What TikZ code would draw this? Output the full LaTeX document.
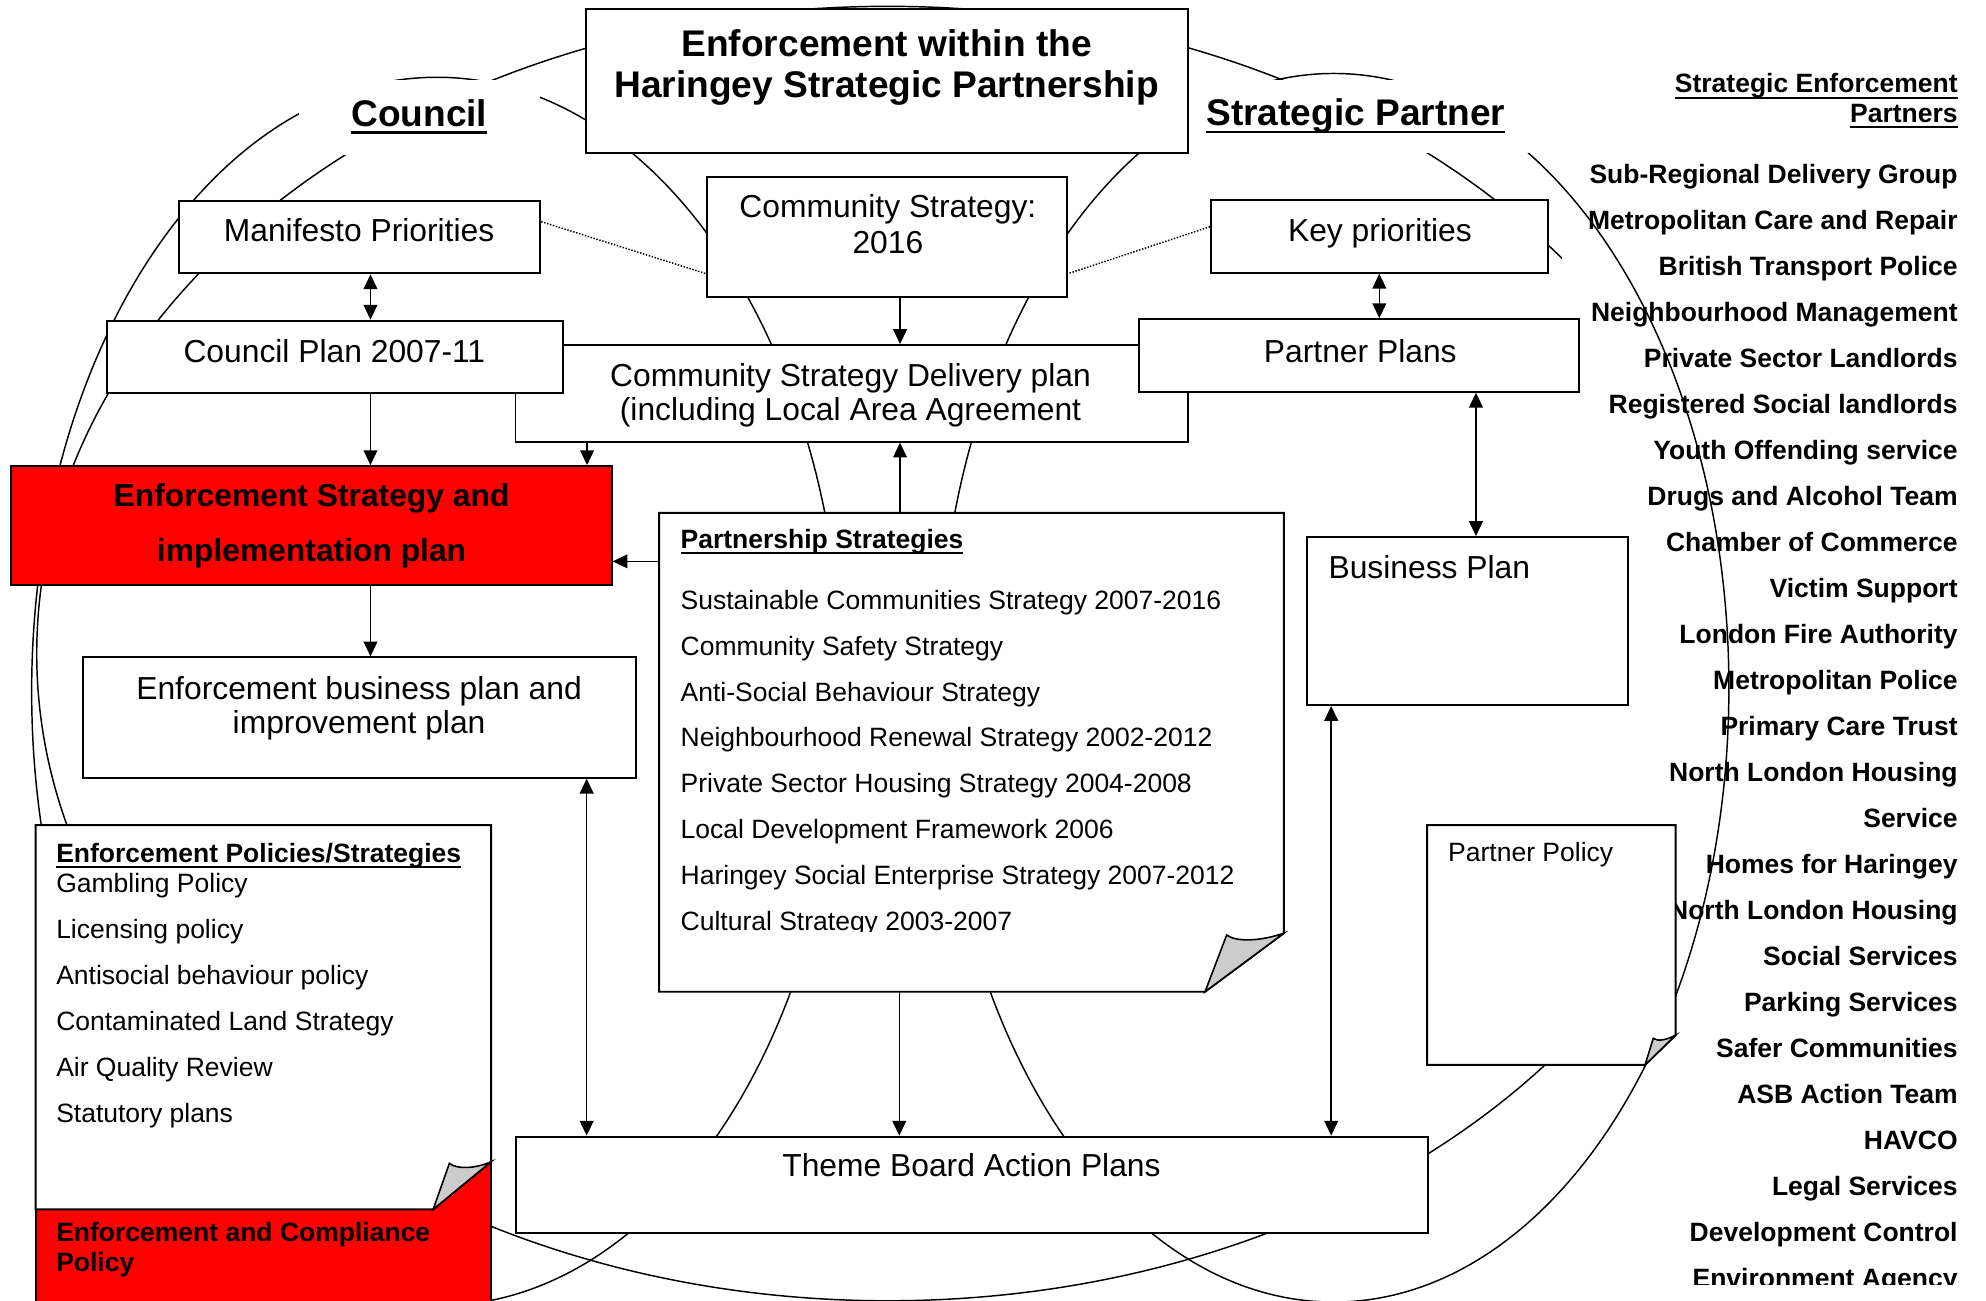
\documentclass[tikz,border=0pt]{standalone}
\usepackage{fontspec}
\setmainfont{Liberation Sans}
\usetikzlibrary{arrows.meta}
\usetikzlibrary{fit}
\newcommand{\ulin}[1]{\leavevmode\setbox0\hbox{#1}\rlap{\rule[-0.21em]{\wd0}{0.07em}}\box0}
\tikzset{
  planbox/.style={draw, line width=0.75pt, fill=white, inner sep=0pt},
  redbox/.style={planbox, fill=red},
  page/.style={draw, line width=0.75pt, fill=white},
  fold/.style={draw, line width=0.6pt, fill=black!20},
  cover/.style={fill=white, inner sep=0pt, outer sep=0pt},
  spot/.style={inner sep=0pt, outer sep=0pt},
  txt/.style={inner sep=0pt, font=\fontsize{12}{14}\selectfont},
  txtb/.style={inner sep=0pt, font=\fontsize{12}{14}\selectfont\bfseries},
  txts/.style={inner sep=0pt, font=\fontsize{10}{12}\selectfont},
  txtsb/.style={inner sep=0pt, font=\fontsize{10}{12}\selectfont\bfseries},
  heading/.style={inner sep=0pt, font=\fontsize{14}{17}\selectfont\bfseries},
  orbit/.style={line width=0.55pt},
  link/.style={-{Triangle[length=5.6pt, width=5.2pt]}, line width=0.55pt},
  dlink/.style={{Triangle[length=5.6pt, width=5.2pt]}-{Triangle[length=5.6pt, width=5.2pt]}, line width=0.55pt},
  dots/.style={line width=0.55pt, dash pattern=on 0.55pt off 0.6pt},
}

\begin{document}
\begin{tikzpicture}[x=0.478pt, y=-0.478pt]
  \fill[white] (0,0) rectangle (1568,1027);
  \useasboundingbox (0,0) rectangle (1568,1027);
  \clip (0,0) rectangle (1568,1027);

  % large loop, its right side hidden by the partner list
  \draw[orbit] (701,516) ellipse [x radius=672, y radius=511];
  \node[cover, fit={(1233,30) (1568,1014)}] (listbg) {};
  \begin{scope}
    \clip (1233,0) rectangle (1568,1014);
    \node[txtsb, anchor=base east] (lh1) at (1546,73.4) {\ulin{Strategic Enforcement}};
    \node[txtsb, anchor=base east] (lh2) at (1546,96.9) {\ulin{Partners}};
    \foreach \nome [count=\i] in {Sub-Regional Delivery Group, Metropolitan Care and Repair,
        British Transport Police, Neighbourhood Management, Private Sector Landlords,
        Registered Social landlords, Youth Offending service, Drugs and Alcohol Team,
        Chamber of Commerce, Victim Support, London Fire Authority, Metropolitan Police,
        Primary Care Trust, North London Housing, Service, Homes for Haringey,
        North London Housing, Social Services, Parking Services, Safer Communities,
        ASB Action Team, HAVCO, Legal Services, Development Control, Environment Agency}
      \node[txtsb, anchor=base east] (sp\i) at (1546,{145.2+36.3*(\i-1)}) {\nome};
  \end{scope}

  % council and partner circles
  \draw[orbit] (345,546) ellipse [x radius=320, y radius=485];
  \draw[orbit] (1053,543) ellipse [x radius=312, y radius=485];

  % headings
  \node[cover, fit={(236,63) (426,122)}] (councilbg) {};
  \node[heading, anchor=base] (council) at (331,99.5) {\ulin{Council}};
  \node[cover, fit={(939,63) (1212,121)}] (partnerbg) {};
  \node[heading, anchor=base west] (partner) at (952,99) {\ulin{Strategic Partner}};

  % top row
  \node[planbox, fit={(463,7) (938,120.5)}] (title) {};
  \node[heading, anchor=base] (title1) at (700,44.5) {Enforcement within the};
  \node[heading, anchor=base] (title2) at (700,77) {Haringey Strategic Partnership};
  \node[planbox, fit={(558,139.5) (842.6,234.8)}] (cs) {};
  \node[txt, anchor=base] (cs1) at (701,172) {Community Strategy:};
  \node[txt, anchor=base] (cs2) at (701,200) {2016};
  \node[planbox, fit={(141,158.7) (426.5,215.8)}] (mani) {};
  \node[txt, anchor=base] (mani1) at (283.5,191) {Manifesto Priorities};
  \node[planbox, fit={(956,158) (1222,215.3)}] (kp) {};
  \node[txt, anchor=base] (kp1) at (1089.5,191) {Key priorities};

  % plans
  \node[planbox, fit={(407,272.4) (938,348.7)}] (csd) {};
  \node[txt, anchor=base] (csd1) at (671.5,305) {Community Strategy Delivery plan};
  \node[txt, anchor=base] (csd2) at (671.5,332) {(including Local Area Agreement};
  \node[planbox, fit={(84.6,253.2) (444.7,310)}] (cp) {};
  \node[txt, anchor=base] (cp1) at (264,286) {Council Plan 2007-11};
  \node[planbox, fit={(899,252) (1247,309.3)}] (pp) {};
  \node[txt, anchor=base] (pp1) at (1074,286) {Partner Plans};

  % enforcement strategy
  \node[redbox, fit={(8.8,368) (482.9,461.7)}] (esp) {};
  \node[txtb, anchor=base] (esp1) at (246,400) {Enforcement Strategy and};
  \node[txtb, anchor=base] (esp2) at (246,443) {implementation plan};
  \node[planbox, fit={(65.6,519) (501.9,614)}] (ebp) {};
  \node[txt, anchor=base] (ebp1) at (283.5,552) {Enforcement business plan and};
  \node[txt, anchor=base] (ebp2) at (283.5,579) {improvement plan};

  % partnership strategies page
  \node[spot, fit={(520.3,405) (1013.7,783)}] (ps) {};
  \draw[page] (ps.north west) -- (ps.north east) -- (1013.7,736.7) -- (951.4,783) -- (ps.south west) -- cycle;
  \draw[fold] (951.4,783) -- (968.5,738.2) .. controls (976,744) and (996,743) .. (1013.7,736.7) -- cycle;
  \node[txtsb, anchor=base west] (ps0) at (537,433) {\ulin{Partnership Strategies}};
  \begin{scope}
    \clip (521,405) rectangle (1013,735.5);
    \foreach \nome [count=\i] in {Sustainable Communities Strategy 2007-2016, Community Safety Strategy,
        Anti-Social Behaviour Strategy, Neighbourhood Renewal Strategy 2002-2012,
        Private Sector Housing Strategy 2004-2008, Local Development Framework 2006,
        Haringey Social Enterprise Strategy 2007-2012, Cultural Strategy 2003-2007}
      \node[txts, anchor=base west] (ps\i) at (537,{481+36.25*(\i-1)}) {\nome};
  \end{scope}
  \node[planbox, fit={(1032,424) (1285,556.6)}] (bp) {};
  \node[txt, anchor=base west] (bp1) at (1048.5,457) {Business Plan};

  % enforcement policies page over the red band
  \node[spot, fit={(28.2,651.4) (387.7,1027)}] (ep) {};
  \draw[line width=0.75pt, fill=red] (28.2,917.2) rectangle (387.7,1040);
  \draw[page] (ep.north west) -- (ep.north east) -- (387.7,917.2) -- (342,954.8) -- (28.2,954.8) -- cycle;
  \draw[fold] (342,954.8) -- (354.8,918.5) .. controls (361,923.5) and (376,922.5) .. (387.7,917.2) -- cycle;
  \node[txtsb, anchor=base west] (ep0) at (44,680.6) {\ulin{Enforcement Policies/Strategies}};
  \foreach \nome [count=\i] in {Gambling Policy, Licensing policy, Antisocial behaviour policy,
      Contaminated Land Strategy, Air Quality Review, Statutory plans}
    \node[txts, anchor=base west] (ep\i) at (44,{705+36.3*(\i-1)}) {\nome};
  \node[txtsb, anchor=base west] (ec1) at (44,980.3) {Enforcement and Compliance};
  \node[txtsb, anchor=base west] (ec2) at (44,1004) {Policy};

  % partner policy page
  \node[spot, fit={(1126.7,651.4) (1323,840.8)}] (ppol) {};
  \draw[page] (ppol.north west) -- (ppol.north east) -- (1323,817.2) -- (1298.8,840.8) -- (ppol.south west) -- cycle;
  \draw[fold] (1298.8,840.8) -- (1305.3,819.8) .. controls (1309,822.5) and (1316,821) .. (1323,817.2) -- cycle;
  \node[txts, anchor=base west] (ppol1) at (1143,680) {Partner Policy};

  % theme boards
  \node[planbox, fit={(407.6,897.4) (1127.5,973.7)}] (tb) {};
  \node[txt, anchor=base] (tb1) at (767,929) {Theme Board Action Plans};

  % connectors
  \draw[dlink] (292.5,0 |- mani.south) -- (292.5,0 |- cp.north);
  \draw[link] (292.5,0 |- cp.south) -- (292.5,0 |- esp.north);
  \draw[link] (463.5,0 |- csd.south) -- (463.5,0 |- esp.north);
  \draw[link] (710.6,0 |- cs.south) -- (710.6,0 |- csd.north);
  \draw[link] (710.6,0 |- ps.north) -- (710.6,0 |- csd.south);
  \draw[link] (ps.west |- 0,443.2) -- (esp.east |- 0,443.2);
  \draw[link] (292.5,0 |- esp.south) -- (292.5,0 |- ebp.north);
  \draw[dlink] (463.2,0 |- ebp.south) -- (463.2,0 |- tb.north);
  \draw[link] (710,0 |- ps.south) -- (710,0 |- tb.north);
  \draw[dlink] (1089,0 |- kp.south) -- (1089,0 |- pp.north);
  \draw[dlink] (1165.3,0 |- pp.south) -- (1165.3,0 |- bp.north);
  \draw[dlink] (1051,0 |- bp.south) -- (1051,0 |- tb.north);
  \draw[dots] (mani.east |- 0,175) -- (cs.west |- 0,216);
  \draw[dots] (kp.west |- 0,179) -- (cs.east |- 0,216);
\end{tikzpicture}
\end{document}
